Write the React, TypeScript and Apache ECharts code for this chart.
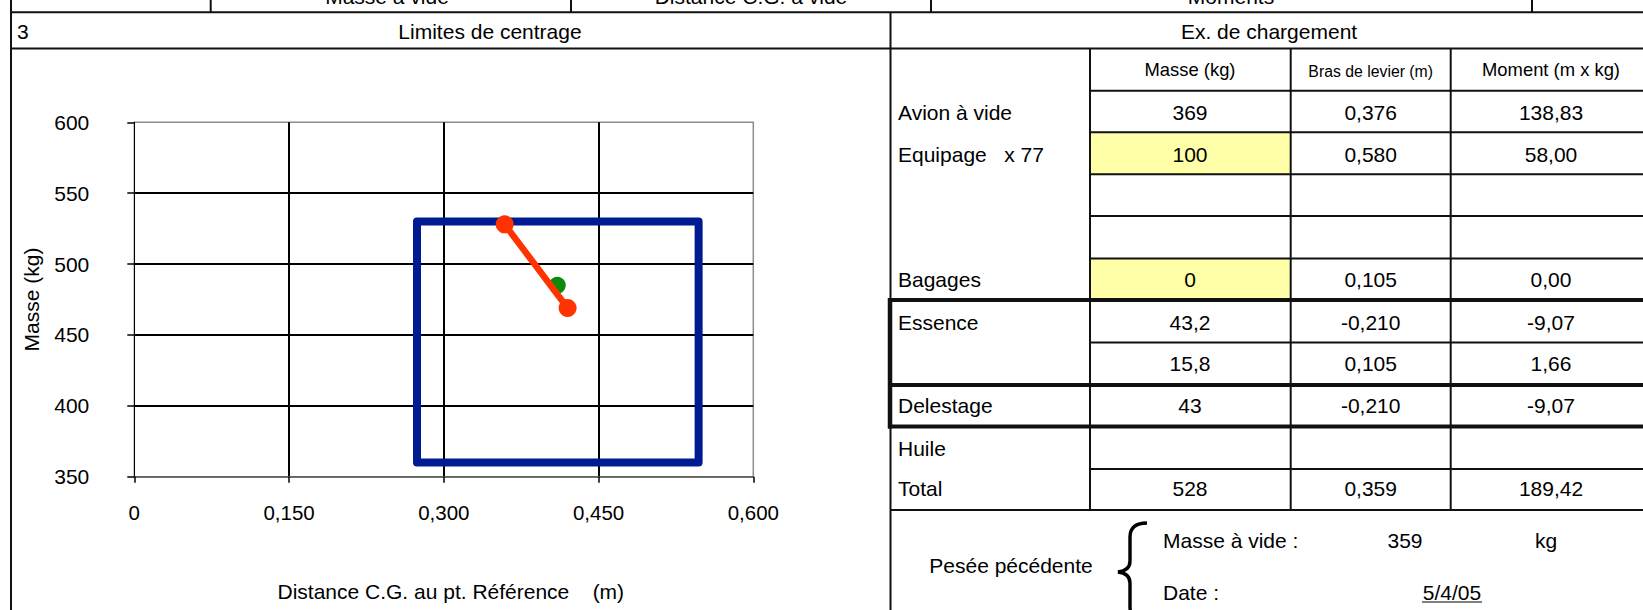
import React, { useEffect, useRef } from "react";
import * as echarts from "echarts";

const FONT = "'Liberation Sans', Arial, Helvetica, sans-serif";

// ---- chart data ----
const xTickValues = [0, 0.15, 0.3, 0.45, 0.6];
const xTickLabels = ["0", "0,150", "0,300", "0,450", "0,600"];
const envelopeX = [0.274, 0.274, 0.547, 0.547, 0.274];
const envelopeY = [360, 530, 530, 360, 360];
const loadPathX = [0.359, 0.42];
const loadPathY = [528, 469];
const afterDelestageX = [0.41];
const afterDelestageY = [485];

// ---- sheet texts ----
const topHeaders = ["Masse à vide", "Distance C.G. à vide", "Moments"];
const sectionNumber = "3";
const chartTitle = "Limites de centrage";
const tableTitle = "Ex. de chargement";
const colHeaders = ["Masse (kg)", "Bras de levier (m)", "Moment (m x kg)"];
const rowLabels = ["Avion à vide", "Equipage   x 77", "", "", "Bagages", "Essence", "", "Delestage", "Huile", "Total"];
const masses = ["369", "100", "", "", "0", "43,2", "15,8", "43", "", "528"];
const arms = ["0,376", "0,580", "", "", "0,105", "-0,210", "0,105", "-0,210", "", "0,359"];
const moments = ["138,83", "58,00", "", "", "0,00", "-9,07", "1,66", "-9,07", "", "189,42"];
const yellowRows = [1, 4];
const previousLabel = "Pesée pécédente";
const previousMassLabel = "Masse à vide :";
const previousMass = "359";
const previousMassUnit = "kg";
const previousDateLabel = "Date :";
const previousDate = "5/4/05";

// ---- layout ----
const rowY = [90.7, 132.3, 174.3, 216, 258.5, 300, 342.5, 385, 426.5, 469, 510];
const rowTextShift = [1, 1, 0, 0, 0, 1, 0, 0, 1, -1.5];
const colX = [891, 1090, 1290.7, 1450.7, 1651];
const W = 1643;
const H = 610;

function txt(x: number, y: number, text: string, size: number, align = "center", extra: any = {}) {
  return {
    type: "text",
    x,
    y,
    silent: true,
    style: {
      text,
      fill: "#000",
      font: `${size}px ${FONT}`,
      align,
      verticalAlign: "middle",
      textAlign: align,
      textVerticalAlign: "middle",
      ...extra,
    },
  };
}
function ln(x1: number, y1: number, x2: number, y2: number, w = 2, color = "#111") {
  return { type: "line", silent: true, shape: { x1, y1, x2, y2 }, style: { stroke: color, lineWidth: w } };
}

function buildGraphic() {
  const els: any[] = [];
  // yellow input cells
  yellowRows.forEach((r) => {
    els.push({
      type: "rect",
      silent: true,
      shape: { x: colX[1], y: rowY[r], width: colX[2] - colX[1], height: rowY[r + 1] - rowY[r] },
      style: { fill: "#ffffa8" },
    });
  });
  // top header row (cut off at the top edge, as in the sheet)
  const topCenters = [387, 751, 1231];
  topHeaders.forEach((t, i) => els.push(txt(topCenters[i], -4, t, 21)));
  [210.7, 571, 931, 1532].forEach((x) => els.push(ln(x, 0, x, 12.3)));
  els.push(ln(11, 12.3, W, 12.3));
  els.push(ln(11, 48.5, W, 48.5));
  els.push(ln(11, 0, 11, H));
  els.push(ln(890.5, 12.3, 890.5, H, 2));
  // section row
  els.push(txt(17, 31.5, sectionNumber, 21, "left"));
  els.push(txt(490, 31.5, chartTitle, 21));
  els.push(txt(1269, 31.5, tableTitle, 21));
  // table grid
  for (let i = 0; i < 5; i++) els.push(ln(colX[1], rowY[i], W, rowY[i]));
  els.push(ln(888, rowY[5], W, rowY[5], 4));
  els.push(ln(colX[1], rowY[6], W, rowY[6]));
  els.push(ln(888, rowY[7], W, rowY[7], 4));
  els.push(ln(888, rowY[8], W, rowY[8], 4));
  els.push(ln(colX[1], rowY[9], W, rowY[9]));
  els.push(ln(891, rowY[10], W, rowY[10]));
  [colX[1], colX[2], colX[3]].forEach((x) => els.push(ln(x, 48.5, x, rowY[10])));
  els.push(ln(890, rowY[5] - 2, 890, rowY[8] + 2, 4.5));
  // column headers
  const cCenters = [1190, 1370.7, 1551];
  els.push(txt(cCenters[0], 69.5, colHeaders[0], 18.4));
  els.push(txt(cCenters[1], 71.5, colHeaders[1], 15.8));
  els.push(txt(cCenters[2], 69.5, colHeaders[2], 18.4));
  // rows
  for (let r = 0; r < rowLabels.length; r++) {
    const cy = (rowY[r] + rowY[r + 1]) / 2 + rowTextShift[r];
    if (rowLabels[r]) els.push(txt(898, cy, rowLabels[r], 21, "left"));
    if (masses[r]) els.push(txt(cCenters[0], cy, masses[r], 21));
    if (arms[r]) els.push(txt(cCenters[1], cy, arms[r], 21));
    if (moments[r]) els.push(txt(cCenters[2], cy, moments[r], 21));
  }
  // previous weighing
  els.push(txt(1011, 565, previousLabel, 21));
  els.push({
    type: "brace",
    x: 1118,
    y: 523,
    silent: true,
    style: { stroke: "#000", lineWidth: 3.4, fill: "none" },
  });
  els.push(txt(1163, 540, previousMassLabel, 21, "left"));
  els.push(txt(1405, 540, previousMass, 21));
  els.push(txt(1546, 540, previousMassUnit, 21));
  els.push(txt(1163, 592, previousDateLabel, 21, "left"));
  els.push(txt(1452, 592, previousDate, 21));
  els.push(ln(1422, 602, 1482, 602, 1.2, "#000"));
  return els;
}

export default function App() {
  const ref = useRef<HTMLDivElement>(null);
  useEffect(() => {
    const braceD =
      "M 29 0 C 18 0 12 4 12 14 L 12 38 C 12 45 8 48 0 49 C 8 50 12 53 12 60 L 12 84 C 12 94 18 98 29 98";
    echarts.graphic.registerShape("brace", echarts.graphic.extendPath(braceD, {}));
    const chart = echarts.init(ref.current!, null, { renderer: "svg" });
    const option: any = {
      animation: false,
      backgroundColor: "#fff",
      textStyle: { fontFamily: FONT },
      grid: {
        left: 134.3,
        top: 122.3,
        width: 619,
        height: 354.4,
        show: true,
        borderColor: "#8c8c8c",
        borderWidth: 1.5,
        backgroundColor: "transparent",
      },
      xAxis: {
        type: "value",
        min: 0,
        max: 0.6,
        interval: 0.15,
        axisLine: { show: true, onZero: false, lineStyle: { color: "#555", width: 1.5 } },
        axisTick: { show: true, length: 6, lineStyle: { color: "#000", width: 1.5 } },
        axisLabel: {
          margin: 25,
          color: "#000",
          fontSize: 20.5,
          fontFamily: FONT,
          formatter: (v: number) => {
            let best = 0;
            xTickValues.forEach((t, i) => {
              if (Math.abs(t - v) < Math.abs(xTickValues[best] - v)) best = i;
            });
            return xTickLabels[best];
          },
        },
        splitLine: { show: true, showMinLine: false, showMaxLine: false, lineStyle: { color: "#000", width: 2 } },
        name: "Distance C.G. au pt. Référence    (m)",
        nameLocation: "middle",
        nameGap: 104,
        nameTextStyle: { color: "#000", fontSize: 21, fontFamily: FONT, padding: [0, 0, 0, 14] },
      },
      yAxis: {
        type: "value",
        min: 350,
        max: 600,
        interval: 50,
        axisLine: { show: true, lineStyle: { color: "#000", width: 1 } },
        axisTick: { show: true, length: 7, lineStyle: { color: "#000", width: 1.5 } },
        axisLabel: { margin: 45, color: "#000", fontSize: 21, fontFamily: FONT },
        splitLine: { show: true, showMinLine: false, showMaxLine: false, lineStyle: { color: "#000", width: 2 } },
        name: "Masse (kg)",
        nameLocation: "middle",
        nameRotate: 90,
        nameGap: 92,
        nameTextStyle: { color: "#000", fontSize: 21, fontFamily: FONT },
      },
      series: [
        {
          type: "line",
          data: envelopeX.map((x, i) => [x, envelopeY[i]]),
          symbol: "none",
          lineStyle: { color: "#001b91", width: 8, join: "round", cap: "round" },
          z: 3,
        },
        {
          type: "scatter",
          data: afterDelestageX.map((x, i) => [x, afterDelestageY[i]]),
          symbol: "circle",
          symbolSize: 17,
          itemStyle: { color: "#0b8a0b", opacity: 1 },
          z: 4,
        },
        {
          type: "line",
          data: loadPathX.map((x, i) => [x, loadPathY[i]]),
          symbol: "circle",
          symbolSize: 18,
          showSymbol: true,
          lineStyle: { color: "#ff3300", width: 6.5 },
          itemStyle: { color: "#ff3300", borderWidth: 0 },
          z: 5,
        },
      ],
      graphic: buildGraphic(),
    };
    chart.setOption(option);
    return () => chart.dispose();
  }, []);
  return (
    <div
      ref={ref}
      style={{ position: "fixed", left: 0, top: 0, width: W, height: H, background: "#fff" }}
    />
  );
}
